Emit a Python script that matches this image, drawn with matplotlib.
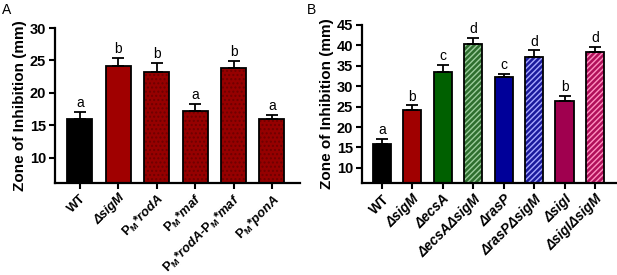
import matplotlib
matplotlib.use("Agg")
import matplotlib.pyplot as plt

plt.rcParams['font.family'] = ['Liberation Sans', 'DejaVu Sans']
plt.rcParams['mathtext.fontset'] = 'custom'
plt.rcParams['mathtext.rm'] = 'Liberation Sans:bold'
plt.rcParams['mathtext.it'] = 'Liberation Sans:bold:italic'
plt.rcParams['mathtext.bf'] = 'Liberation Sans:bold'
plt.rcParams['hatch.linewidth'] = 1.0

# Panel A data
a_labels = ['WT', 'ΔsigM', r'$\mathrm{P_M}$*rodA', r'$\mathrm{P_M}$*maf',
            r'$\mathrm{P_M}$*rodA-$\mathrm{P_M}$*maf', r'$\mathrm{P_M}$*ponA']
a_means = [16.0, 24.2, 23.3, 17.2, 23.9, 15.95]
a_err = [1.1, 1.2, 1.3, 1.1, 1.0, 0.65]
a_letters = ['a', 'b', 'b', 'a', 'b', 'a']
a_colors = ['#000000', '#A00000', '#960000', '#960000', '#960000', '#960000']
a_hatch = ['', '', '....', '....', '....', '....']
a_hatchcol = ['#000000', '#A00000', '#6E0000', '#6E0000', '#6E0000', '#6E0000']

# Panel B data
b_labels = ['WT', 'ΔsigM', 'ΔecsA', 'ΔecsAΔsigM', 'ΔrasP', 'ΔrasPΔsigM', 'ΔsigI', 'ΔsigIΔsigM']
b_means = [15.9, 24.1, 33.5, 40.3, 32.3, 37.2, 26.5, 38.5]
b_err = [1.2, 1.2, 1.7, 1.6, 0.7, 1.6, 1.2, 1.2]
b_letters = ['a', 'b', 'c', 'd', 'c', 'd', 'b', 'd']
b_colors = ['#000000', '#A00000', '#006000', '#2E6E2E', '#000099', '#1A1A9C', '#A0004F', '#B0105A']
b_hatch = ['', '', '', '//////', '', '//////', '', '//////']
b_hatchcol = ['#000000', '#A00000', '#006000', '#9CCC9C', '#000099', '#A8A8FF', '#A0004F', '#FF90C0']

fig = plt.figure(figsize=(6.17, 2.75), dpi=100)
W, H = 617, 275
axA = fig.add_axes([55 / W, (H - 183) / H, 245 / W, 155 / H])
axB = fig.add_axes([362 / W, (H - 183) / H, 255 / W, 158 / H])


def draw(ax, labels, means, err, letters, colors, hatches, hcols, width, ylim, yticks, xlim, off, xfs):
    x = list(range(len(means)))
    ax.bar(x, means, width=width, color=colors, hatch=hatches, edgecolor=hcols,
           linewidth=0, zorder=2)
    ax.bar(x, means, width=width, fill=False, edgecolor='black', linewidth=1.3, zorder=3)
    ax.errorbar(x, means, yerr=[[0] * len(err), err], fmt='none', ecolor='black',
                elinewidth=1.3, capsize=4, capthick=1.3, zorder=4)
    for xi, m, e, L in zip(x, means, err, letters):
        ax.text(xi, m + e + off, L, ha='center', va='bottom', fontsize=10)
    ax.set_ylim(*ylim)
    ax.set_xlim(*xlim)
    ax.set_yticks(yticks)
    ax.set_yticklabels([str(t) for t in yticks], fontsize=10.5, fontweight='bold')
    ax.set_xticks(x)
    ax.set_xticklabels(labels, rotation=45, ha='right', rotation_mode='anchor',
                       fontsize=xfs, fontweight='bold', fontstyle='italic')
    for lab in ax.get_xticklabels():
        if lab.get_text() == 'WT':
            lab.set_fontstyle('normal')
    for s in ['top', 'right']:
        ax.spines[s].set_visible(False)
    for s in ['left', 'bottom']:
        ax.spines[s].set_linewidth(1.6)
    ax.spines['left'].set_bounds(ylim[0], yticks[-1])
    ax.tick_params(axis='both', direction='out', width=1.5, length=4.5, pad=2)
    ax.set_ylabel('Zone of Inhibition (mm)', fontsize=11, fontweight='bold', labelpad=2)
    ax.patch.set_alpha(0)


draw(axA, a_labels, a_means, a_err, a_letters, a_colors, a_hatch, a_hatchcol,
     0.65, (6.15, 30), [10, 15, 20, 25, 30], (-0.65, 5.73), 0.3, 9.3)
draw(axB, b_labels, b_means, b_err, b_letters, b_colors, b_hatch, b_hatchcol,
     0.6, (6.3, 45), [10, 15, 20, 25, 30, 35, 40, 45], (-0.65, 7.72), 0.4, 9.8)

fig.text(2 / W, 1 - 10 / H, 'A', fontsize=10, va='center', ha='left')
fig.text(307 / W, 1 - 10 / H, 'B', fontsize=10, va='center', ha='left')

fig.savefig('out.png', dpi=100)
